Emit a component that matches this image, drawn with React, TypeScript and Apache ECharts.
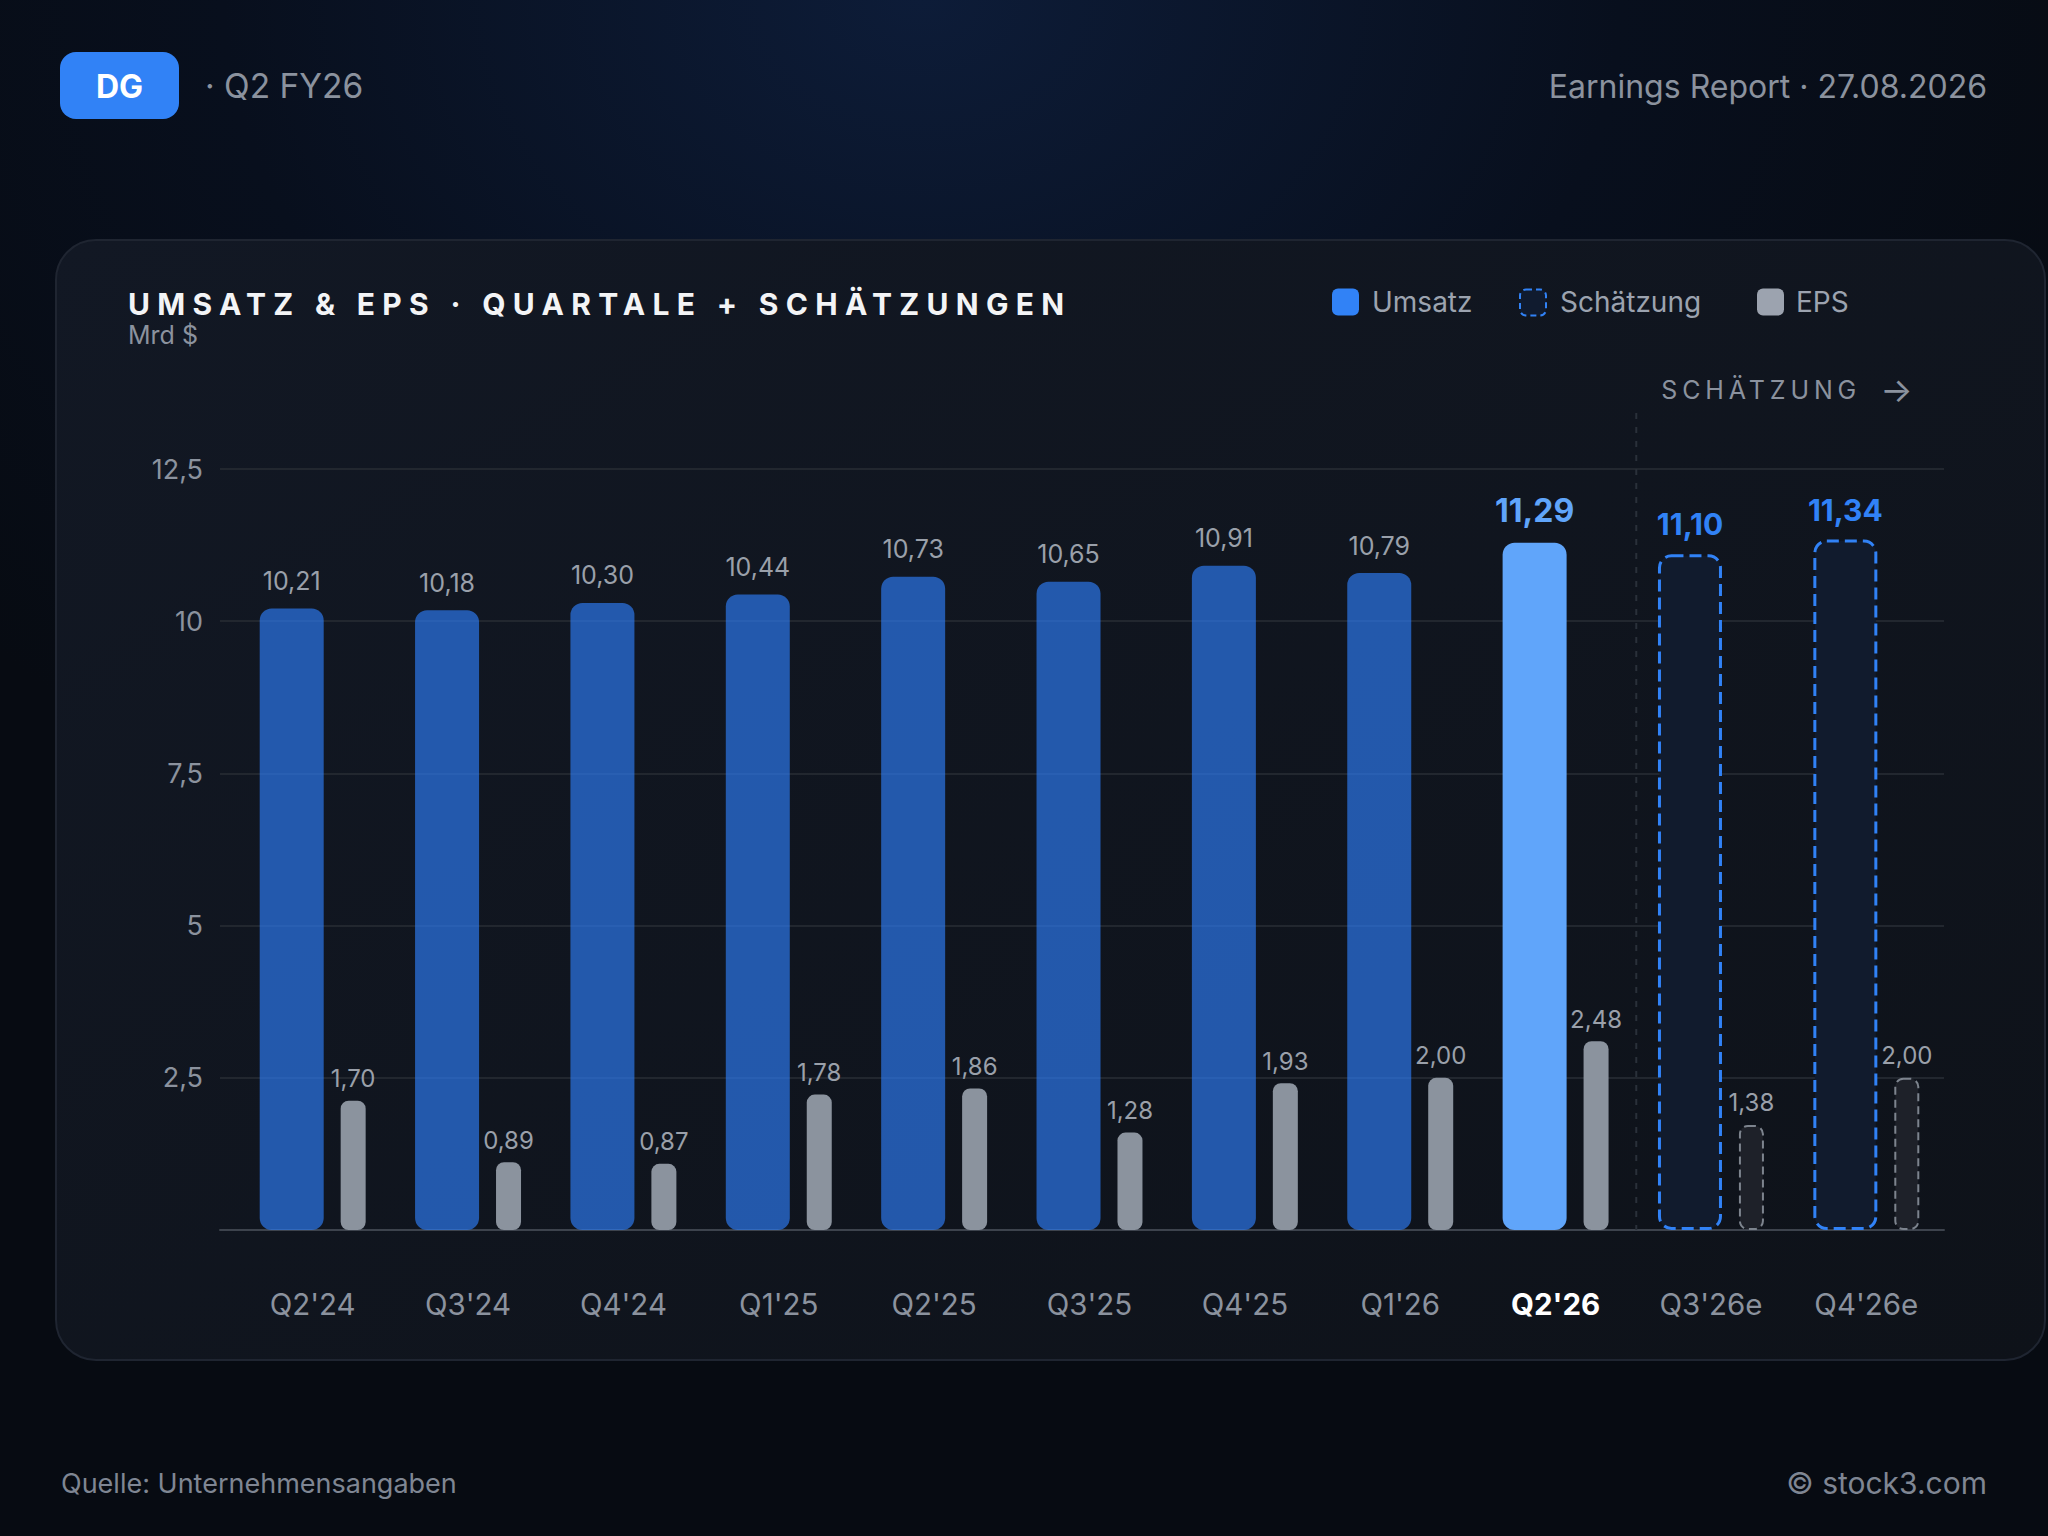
import React, { useEffect, useRef } from "react";
import * as echarts from "echarts";

// ---------- data ----------
const categories = ["Q2'24", "Q3'24", "Q4'24", "Q1'25", "Q2'25", "Q3'25", "Q4'25", "Q1'26", "Q2'26", "Q3'26e", "Q4'26e"];
const revenue = [10.21, 10.18, 10.3, 10.44, 10.73, 10.65, 10.91, 10.79, 11.29, 11.1, 11.34];
const eps = [1.7, 0.89, 0.87, 1.78, 1.86, 1.28, 1.93, 2.0, 2.48, 1.38, 2.0];
const isEstimate = [false, false, false, false, false, false, false, false, false, true, true];
const currentIndex = 8;
const revenueTicks = [0, 2.5, 5, 7.5, 10, 12.5];
const epsRange = [0, 10];

const FONT = 'Inter, "Noto Sans", "DejaVu Sans", sans-serif';
const GREY = "#8b929e";
const LABEL_GREY = "#9aa0aa";
const BLUE = "#3182f6";

const fmt = (v: number) => v.toFixed(2).replace(".", ",");
const fmtTick = (v: number) => (v === 0 ? "" : String(v).replace(".", ","));

function txt(id: string, text: string, x: number, y: number, size: number, fill: string, align = "left", weight: any = "normal", z = 10) {
  return {
    id,
    type: "text",
    z,
    style: {
      text,
      x,
      y,
      fill,
      fontSize: size,
      fontFamily: FONT,
      fontWeight: weight,
      align,
      textAlign: align,
      verticalAlign: "middle",
      textVerticalAlign: "middle",
    },
  };
}

export default function App() {
  const ref = useRef<HTMLDivElement>(null);

  useEffect(() => {
    document.body.style.margin = "0";
    document.body.style.overflow = "hidden";
    document.body.style.background = "#070b12";
    const el = ref.current!;
    const chart = echarts.init(el, null, { renderer: "svg", width: 2048, height: 1536 });

    const revenueData = revenue.map((v, i) => {
      const est = isEstimate[i];
      const cur = i === currentIndex;
      return {
        value: v,
        itemStyle: est
          ? { color: "#111b2d", borderColor: BLUE, borderWidth: 3, borderType: [12, 6], borderRadius: 12 }
          : { color: cur ? "#60a5fa" : "rgba(45,124,246,0.66)", borderRadius: 12 },
        label: est
          ? { color: BLUE, fontSize: 30, fontWeight: "bold", distance: 15 }
          : cur
          ? { color: "#60a5fa", fontSize: 32, fontWeight: "bold", distance: 16 }
          : {},
      };
    });

    const epsData = eps.map((v, i) => {
      const est = isEstimate[i];
      return {
        value: v,
        itemStyle: est
          ? { color: "#1e2129", borderColor: "#7d848e", borderWidth: 2, borderType: [8, 5], borderRadius: 8 }
          : { color: "#8b939e", borderRadius: 8 },
      };
    });

    const graphics: any[] = [
      {
        id: "bg",
        type: "rect",
        z: -20,
        shape: { x: 0, y: 0, width: 2048, height: 1536 },
        style: {
          fill: {
            type: "radial",
            x: 0.45,
            y: 0,
            r: 0.62,
            colorStops: [
              { offset: 0, color: "#0d1c38" },
              { offset: 0.55, color: "#080f1d" },
              { offset: 1, color: "#070b12" },
            ],
          },
        },
      },
      {
        id: "card",
        type: "rect",
        z: -10,
        shape: { x: 56, y: 240, width: 1989, height: 1120, r: 40 },
        style: {
          fill: {
            type: "linear",
            x: 0,
            y: 0,
            x2: 1,
            y2: 1,
            colorStops: [
              { offset: 0, color: "#121824" },
              { offset: 1, color: "#0e1219" },
            ],
          },
          stroke: "#1f2531",
          lineWidth: 2,
        },
      },
      {
        id: "badge",
        type: "rect",
        z: 5,
        shape: { x: 60, y: 52, width: 119, height: 67, r: 16 },
        style: { fill: BLUE },
      },
      txt("badgeText", "DG", 119.5, 86, 32, "#ffffff", "center", "bold"),
      txt("period", "· Q2 FY26", 205, 86, 33.5, GREY),
      txt("report", "Earnings Report · 27.08.2026", 1987, 86, 32, GREY, "right"),
      txt("title", "UMSATZ & EPS · QUARTALE + SCHÄTZUNGEN", 128, 304, 30, "#f3f4f6", "left", "bold"),
      txt("unit", "Mrd $", 128, 335, 25, GREY),
      // legend
      { id: "lg1", type: "rect", z: 5, shape: { x: 1332, y: 288.5, width: 27, height: 27, r: 6 }, style: { fill: BLUE } },
      txt("lg1t", "Umsatz", 1372, 302, 28, "#9ca3af"),
      {
        id: "lg2",
        type: "rect",
        z: 5,
        shape: { x: 1520, y: 289.5, width: 26, height: 26, r: 6 },
        style: { fill: "#101b2f", stroke: BLUE, lineWidth: 2, lineDash: [6, 4] },
      },
      txt("lg2t", "Schätzung", 1560, 302, 28, "#9ca3af"),
      { id: "lg3", type: "rect", z: 5, shape: { x: 1757, y: 288.5, width: 27, height: 27, r: 6 }, style: { fill: "#9ca3af" } },
      txt("lg3t", "EPS", 1796, 302, 28, "#9ca3af"),
      // footer
      txt("source", "Quelle: Unternehmensangaben", 61, 1483, 27, "#7f8693"),
      txt("copy", "© stock3.com", 1987, 1483, 30, "#7f8693", "right"),
    ];

    const option: any = {
      animation: false,
      backgroundColor: "transparent",
      textStyle: { fontFamily: FONT },
      graphic: graphics,
      grid: [
        { left: 235, right: 104, top: 469, bottom: 306 },
        { left: 220, right: 104, top: 469, bottom: 306 },
      ],
      xAxis: [
        {
          type: "category",
          gridIndex: 0,
          data: categories,
          axisLine: { show: false },
          axisTick: { show: false },
          axisLabel: {
            interval: 0,
            margin: 59,
            color: GREY,
            fontSize: 29.5,
            fontFamily: FONT,
            formatter: (v: string, i: number) => (i === currentIndex ? `{cur|${v}}` : v),
            rich: { cur: { color: "#ffffff", fontWeight: "bold", fontSize: 29.5, fontFamily: FONT } },
          },
          splitLine: { show: false },
        },
        {
          type: "value",
          gridIndex: 1,
          min: 0,
          max: 1,
          axisLine: { show: true, lineStyle: { color: "#3d434d", width: 2 } },
          axisTick: { show: false },
          axisLabel: { show: false },
          splitLine: { show: false },
        },
      ],
      yAxis: [
        { type: "value", gridIndex: 0, min: revenueTicks[0], max: revenueTicks[revenueTicks.length - 1], show: false },
        { type: "value", gridIndex: 0, min: epsRange[0], max: epsRange[1], show: false },
        {
          type: "value",
          gridIndex: 1,
          min: revenueTicks[0],
          max: revenueTicks[revenueTicks.length - 1],
          interval: revenueTicks[1] - revenueTicks[0],
          axisLine: { show: false },
          axisTick: { show: false },
          axisLabel: { margin: 17, color: GREY, fontSize: 27, fontFamily: FONT, formatter: fmtTick },
          splitLine: { lineStyle: { color: "#22272f", width: 2 } },
        },
      ],
      series: [
        {
          name: "Umsatz",
          type: "bar",
          xAxisIndex: 0,
          yAxisIndex: 0,
          barWidth: 64,
          barGap: "26.5%",
          data: revenueData,
          label: {
            show: true,
            position: "top",
            distance: 15,
            color: LABEL_GREY,
            fontSize: 25,
            fontFamily: FONT,
            formatter: (p: any) => fmt(p.value),
          },
        },
        {
          name: "EPS",
          type: "bar",
          xAxisIndex: 0,
          yAxisIndex: 1,
          barWidth: 25,
          barGap: "26.5%",
          data: epsData,
          label: {
            show: true,
            position: "top",
            distance: 10,
            color: LABEL_GREY,
            fontSize: 24,
            fontFamily: FONT,
            formatter: (p: any) => fmt(p.value),
          },
        },
      ],
    };

    chart.setOption(option);

    // divider between actual and estimate quarters, placed via the axis scales
    const firstEst = isEstimate.indexOf(true);
    const xa = chart.convertToPixel({ xAxisIndex: 0 }, categories[firstEst - 1]) as number;
    const xb = chart.convertToPixel({ xAxisIndex: 0 }, categories[firstEst]) as number;
    const yTop = chart.convertToPixel({ yAxisIndex: 0 }, revenueTicks[revenueTicks.length - 1]) as number;
    const yBase = chart.convertToPixel({ yAxisIndex: 0 }, 0) as number;
    const mid = (xa + xb) / 2 + 3;
    chart.setOption({
      graphic: [
        {
          id: "divider",
          type: "line",
          z: 1,
          shape: { x1: mid, y1: yTop - 56, x2: mid, y2: yBase },
          style: { stroke: "#2a303a", lineWidth: 2, lineDash: [6, 8] },
        },
        txt("estLabel", "SCHÄTZUNG", mid + 25, 390, 25, GREY),
        txt("estArrow", "→", mid + 244, 389, 34, GREY),
      ],
    });

    const spacing: [string, number][] = [
      ["UMSATZ & EPS · QUARTALE + SCHÄTZUNGEN", 936],
      ["SCHÄTZUNG", 195],
    ];
    const applySpacing = () => {
      const texts = el.querySelectorAll("text");
      texts.forEach((t: any) => {
        const s = (t.textContent || "").trim();
        for (const [str, target] of spacing) {
          if (s === str) {
            t.removeAttribute("letter-spacing");
            let L = 0;
            try {
              L = t.getComputedTextLength();
            } catch (e) {
              L = 0;
            }
            const n = Array.from(str).length;
            const ls = L > 0 ? Math.max(0, (target - L) / (n - 1)) : 6;
            t.setAttribute("letter-spacing", ls.toFixed(2));
          }
        }
      });
    };
    applySpacing();
    chart.on("finished", applySpacing);
    const timer = setTimeout(applySpacing, 100);

    return () => {
      clearTimeout(timer);
      chart.dispose();
    };
  }, []);

  return <div ref={ref} style={{ width: 2048, height: 1536 }} />;
}
